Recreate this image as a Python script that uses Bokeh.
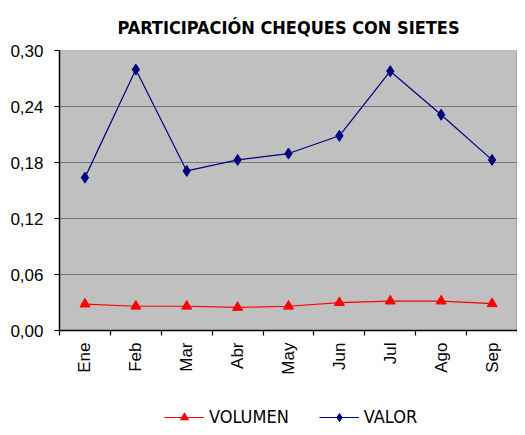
import math
from bokeh.plotting import figure
from bokeh.layouts import column
from bokeh.models import (Range1d, LinearAxis, FixedTicker,
                          CustomJSTickFormatter, Legend, LegendItem, Grid)
from bokeh.embed import file_html
from bokeh.resources import INLINE

months = ["Ene", "Feb", "Mar", "Abr", "May", "Jun", "Jul", "Ago", "Sep"]
volumen = [0.0283, 0.0260, 0.0260, 0.0247, 0.0260, 0.0298, 0.0315, 0.0315, 0.0287]
valor = [0.1638, 0.2796, 0.1710, 0.1828, 0.1896, 0.2086, 0.2778, 0.2312, 0.1828]
y_ticks = [0.0, 0.06, 0.12, 0.18, 0.24, 0.30]
title_text = "PARTICIPACIÓN CHEQUES CON SIETES"
series_names = ["VOLUMEN", "VALOR"]

FONT = "Liberation Sans"
NARROW = "'Liberation Sans Narrow', 'Arial Narrow', 'DejaVu Sans Condensed', 'Liberation Sans'"

RED = "#FF0000"
NAVY = "#000080"

n = len(months)
centers = [i + 0.5 for i in range(n)]      # category centres on the linear x scale
bounds = list(range(n + 1))                # category boundaries (tick marks)

p = figure(width=517, height=405, x_range=Range1d(0, n),
           y_range=Range1d(y_ticks[0], y_ticks[-1]),
           x_axis_location=None, y_axis_type=None,
           output_backend="svg", toolbar_location=None,
           min_border_left=59, min_border_right=0, min_border_top=50, min_border_bottom=75)
p.border_fill_color = "white"
p.background_fill_color = "#C0C0C0"
p.outline_line_color = "#909090"
p.outline_line_dash = "1 1"
p.xgrid.grid_line_color = None

p.title.text = title_text
p.title.align = "center"
p.title.text_font = NARROW
p.title.text_font_style = "bold"
p.title.text_font_size = "18px"
p.title.text_color = "black"
p.title.offset = 0
p.title.standoff = 26

# y axis
yaxis = LinearAxis(ticker=FixedTicker(ticks=y_ticks),
                   formatter=CustomJSTickFormatter(code="return tick.toFixed(2).replace('.', ',');"))
yaxis.major_label_text_font = FONT
yaxis.major_label_text_font_size = "17px"
yaxis.major_label_text_color = "black"
yaxis.major_tick_in = 0
yaxis.major_tick_out = 5
yaxis.minor_tick_line_color = None
yaxis.axis_line_color = "black"
yaxis.axis_line_width = 1.5
yaxis.major_label_standoff = 11
p.add_layout(yaxis, "left")

grid = Grid(dimension=1, ticker=FixedTicker(ticks=y_ticks[1:-1]))
grid.grid_line_color = "#303030"
grid.grid_line_dash = "1 1"
grid.grid_line_width = 1.2
p.add_layout(grid, "center")

# x axis: month labels at category centres, tick marks at category boundaries
xaxis = LinearAxis(ticker=FixedTicker(ticks=centers, minor_ticks=bounds),
                   major_label_overrides={c: m for c, m in zip(centers, months)})
xaxis.axis_line_color = "black"
xaxis.axis_line_width = 1.5
xaxis.major_tick_line_color = None
xaxis.minor_tick_line_color = "black"
xaxis.minor_tick_line_width = 1.2
xaxis.minor_tick_in = 0
xaxis.minor_tick_out = 5
xaxis.major_label_orientation = math.pi / 2
xaxis.major_label_text_font = FONT
xaxis.major_label_text_font_size = "17px"
xaxis.major_label_text_color = "black"
xaxis.major_label_standoff = 6
p.add_layout(xaxis, "below")

p.line(centers, volumen, line_color=RED, line_width=1.2)
p.scatter(centers, volumen, marker="triangle", size=10, fill_color=RED, line_color=RED)
p.line(centers, valor, line_color=NAVY, line_width=1.2)
p.scatter(centers, valor, marker="diamond", size=11, fill_color=NAVY, line_color=NAVY)

# legend strip below the chart (same series, drawn off-range so only the legend shows)
lg = figure(width=517, height=22, x_range=Range1d(0, n), y_range=Range1d(10, 11),
            x_axis_location=None, y_axis_location=None,
            output_backend="svg", toolbar_location=None,
            min_border_left=0, min_border_right=0, min_border_top=0, min_border_bottom=0)
lg.outline_line_color = None
lg.background_fill_color = "white"
lg.border_fill_color = "white"
lg.xgrid.visible = False
lg.ygrid.visible = False
l1 = lg.line(centers, volumen, line_color=RED, line_width=1.2)
s1 = lg.scatter(centers, volumen, marker="triangle", size=9, fill_color=RED, line_color=RED)
l2 = lg.line(centers, valor, line_color=NAVY, line_width=1.2)
s2 = lg.scatter(centers, valor, marker="diamond", size=10, fill_color=NAVY, line_color=NAVY)

legend = Legend(items=[LegendItem(label=series_names[0], renderers=[l1, s1]),
                       LegendItem(label=series_names[1], renderers=[l2, s2])],
                orientation="horizontal", location=(105, 0))
legend.label_text_font = NARROW
legend.label_text_font_size = "18px"
legend.label_text_color = "black"
legend.glyph_width = 40
legend.glyph_height = 20
legend.label_height = 20
legend.spacing = 30
legend.label_standoff = 5
legend.border_line_color = None
legend.background_fill_alpha = 0
legend.margin = 0
legend.padding = 0
lg.add_layout(legend, "center")

layout = column(p, lg, spacing=0)
open("out.html", "w").write(file_html(layout, INLINE))
